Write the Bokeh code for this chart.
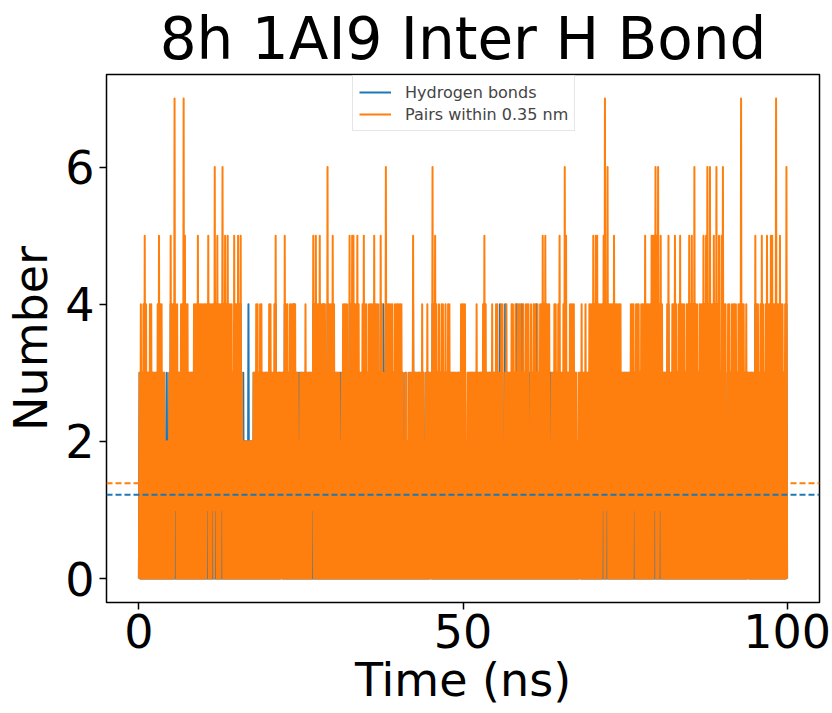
from bokeh.plotting import figure
from bokeh.models import Range1d, FixedTicker, Span, Legend, LegendItem
from bokeh.embed import file_html
from bokeh.resources import INLINE

TITLE = "8h 1AI9 Inter H Bond"
X_LABEL = "Time (ns)"
Y_LABEL = "Number"
NAME_HBOND = "Hydrogen bonds"
NAME_PAIRS = "Pairs within 0.35 nm"
X_TICKS = [0, 50, 100]
Y_TICKS = [0, 2, 4, 6]

# Trace in 0.2 ns bins (one row = 10 ns):
# *_peak = highest count in the bin, *_trough = lowest count in the bin
pairs_peak = [
    "3434543344 3333454433 2223544744 3344754433 3344454444",
    "4445444464 5444645454 4435445453 2222222233 4434433333",
    "4433453333 3354434444 4332333343 3333545445 4444364445",
    "4333323444 4354554454 3345443444 4544435433 6444443444",
    "4443233233 3533333343 2343336454 3434434344 3333333344",
    "4423333333 4333345433 3343344334 4234333443 4344434344",
    "4243443434 4545444233 4434533465 3344443323 3433433444",
    "5455444457 4644445444 4433333334 4434443444 5444455565",
    "6454333453 3445434544 4344545464 4344454564 6445464535",
    "6442443444 4344744343 3333354434 5434544554 4744544346",
]
pairs_trough = [
    "0000000000 0000000000 0000000010 0000000000 0000000000",
    "0001000101 0000100000 0000000000 0000000000 0000000000",
    "0000000000 0000000000 0000000000 0000100000 0000000000",
    "0000000000 0000000000 0000000000 0000000000 0000000000",
    "0000000000 0000000000 0000000000 0000000000 0000000000",
    "0000000000 0000000000 0000000000 0000000000 0000000000",
    "0000000000 0000000000 0000000000 0000000000 0000000000",
    "0000000010 0100000000 0000000000 0010000000 0000000010",
    "0010000000 0000000000 0000000000 0000000000 0000000000",
    "0000000000 0000000000 0000000000 0000000000 0000000000",
]
pairs_last = 0

hbond_peak = [
    "3333433333 3333343333 2323433433 3333433333 3333343333",
    "3334333343 4333433343 3333334343 3222422233 3333333333",
    "3333343333 3343333334 3333333333 3333434334 3343343334",
    "3333333333 3343443343 3334333333 3433334343 4333333333",
    "3333232232 3433333333 2333334343 3333333333 3333333333",
    "3322333333 3333334333 3333333343 3243333333 3433343333",
    "3333334333 3333333333 3333333333 3333333223 3333333333",
    "4343333344 3433334333 3333333333 3333333333 4333344343",
    "4343333343 3334333433 3333434343 3333343433 4334343433",
    "4332333333 3333433333 3333343333 4333433433 3433433334",
]
hbond_trough = [
    "0000000000 0000000000 0000000000 0000000000 0000000000",
    "0000000000 0000000000 0000000000 0000000000 0000000000",
    "0000000000 1000000000 0000000000 0000000000 0000000000",
    "0000000000 0000000000 0000000000 0000000000 0000000000",
    "0000000000 0000000000 0000010000 0000000000 0000000000",
    "0000000000 0000000000 0000000000 0000000000 0000000000",
    "0000000000 0000000000 0000000000 0000000000 1000000000",
    "0000000000 0000000000 0000000000 0000000000 0000000000",
    "0000000000 0000000000 0000000000 0000000000 0000000000",
    "0000000000 0000000000 1000000000 0000000000 0000000000",
]
hbond_last = 0

MEAN_HBOND = 1.22
MEAN_PAIRS = 1.39

BIN_NS = 0.2
FONT = "DejaVu Sans"
BLUE = "#1f77b4"
ORANGE = "#ff7f0e"


def build(peak_rows, trough_rows, last):
    hi = "".join(peak_rows).replace(" ", "")
    lo = "".join(trough_rows).replace(" ", "")
    t, v = [], []
    for j in range(len(hi)):
        t.append(round(j * BIN_NS, 2))
        v.append(int(lo[j]))
        t.append(round(j * BIN_NS + BIN_NS / 2, 2))
        v.append(int(hi[j]))
    t.append(round(len(hi) * BIN_NS, 2))
    v.append(last)
    return t, v


t_h, v_h = build(hbond_peak, hbond_trough, hbond_last)
t_p, v_p = build(pairs_peak, pairs_trough, pairs_last)

p = figure(width=832, height=713, output_backend="svg", toolbar_location=None,
           x_range=Range1d(-5, 105), y_range=Range1d(-0.35, 7.35),
           min_border_left=106, min_border_right=13, min_border_top=72,
           min_border_bottom=111)
p.background_fill_color = "white"
p.border_fill_color = "white"
p.grid.visible = False
p.outline_line_color = "black"
p.outline_line_width = 1.5

p.title.text = TITLE
p.title.align = "center"
p.title.text_font = FONT
p.title.text_font_size = "58px"
p.title.text_font_style = "normal"
p.title.text_color = "black"
p.title.standoff = 4

r_h = p.line(t_h, v_h, line_color=BLUE, line_width=2.0, line_join="round")
r_p = p.line(t_p, v_p, line_color=ORANGE, line_width=2.0, line_join="round")

p.add_layout(Span(location=MEAN_HBOND, dimension="width", line_color=BLUE,
                  line_width=2, line_dash="6 3"))
p.add_layout(Span(location=MEAN_PAIRS, dimension="width", line_color=ORANGE,
                  line_width=2, line_dash="6 3"))

for ax, ticks in ((p.xaxis, X_TICKS), (p.yaxis, Y_TICKS)):
    ax.ticker = FixedTicker(ticks=ticks)
    ax.axis_line_color = None
    ax.major_tick_out = 7
    ax.major_tick_in = 0
    ax.major_tick_line_width = 1.5
    ax.major_tick_line_color = "black"
    ax.minor_tick_line_color = None
    ax.major_label_text_font = FONT
    ax.major_label_text_font_size = "46px"
    ax.major_label_text_color = "black"
    ax.axis_label_text_font = FONT
    ax.axis_label_text_font_size = "46px"
    ax.axis_label_text_font_style = "normal"
    ax.axis_label_text_color = "black"

p.xaxis.axis_label = X_LABEL
p.yaxis.axis_label = Y_LABEL
p.xaxis.major_label_standoff = 4
p.xaxis.axis_label_standoff = 2
p.yaxis.major_label_standoff = 5
p.yaxis.axis_label_standoff = 4

legend = Legend(items=[LegendItem(label=NAME_HBOND, renderers=[r_h]),
                       LegendItem(label=NAME_PAIRS, renderers=[r_p])],
                location=(246, 471))
legend.label_text_font = FONT
legend.label_text_font_size = "16px"
legend.glyph_width = 32
legend.glyph_height = 20
legend.label_height = 20
legend.label_standoff = 14
legend.padding = 6
legend.spacing = 2
legend.margin = 0
legend.border_line_color = "#cccccc"
legend.border_line_width = 1
legend.background_fill_alpha = 0.8
p.add_layout(legend)

open("out.html", "w").write(file_html(p, INLINE))
